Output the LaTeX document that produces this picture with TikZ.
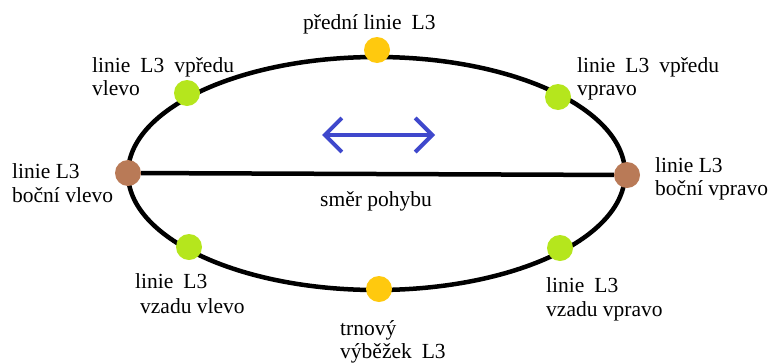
\documentclass[tikz,border=0pt]{standalone}
\usepackage{fontspec}
\setmainfont{Liberation Serif}
\newfontfamily\labelfont{Liberation Serif}
\usetikzlibrary{arrows.meta}

\definecolor{brownpt}{HTML}{B97A57}
\definecolor{yellowpt}{HTML}{FFC90E}
\definecolor{greenpt}{HTML}{B5E61D}
\definecolor{arrowblue}{HTML}{3F48CC}

\newcommand{\wgap}{\hspace{10pt}}

\begin{document}
\begin{tikzpicture}[
  x=1pt, y=-1pt,
  lbl/.style={anchor=base west, inner sep=0pt, font=\labelfont\fontsize{21.5}{24}\selectfont},
  dot/.style={circle, inner sep=0pt, minimum size=26pt},
  outline/.style={line width=4.5pt, black},
  motion/.style={line width=4pt, arrowblue, line cap=round,
    {Straight Barb[length=17pt, width=34pt, line width=4pt]}-{Straight Barb[length=17pt, width=34pt, line width=4pt]}}
]
\useasboundingbox (0,0) rectangle (773,362);

% outline of the vertebra
\draw[outline] (376.5,173.5) ellipse [x radius=248.5pt, y radius=116.5pt];

% points on the outline
\node[dot, fill=yellowpt] (front) at (377,50) {};
\node[dot, fill=greenpt] (fl) at (187,93) {};
\node[dot, fill=greenpt] (fr) at (558,97) {};
\node[dot, fill=brownpt] (sl) at (128,173) {};
\node[dot, fill=brownpt] (sr) at (627,175) {};
\node[dot, fill=greenpt] (bl) at (189,247) {};
\node[dot, fill=greenpt] (br) at (560,248) {};
\node[dot, fill=yellowpt] (back) at (379,289) {};

% transverse line between the lateral points
\draw[outline] (sl) -- (sr);

% direction of movement
\coordinate (mvl) at (322,135);
\coordinate (mvr) at (435,135);
\draw[motion] (mvl) -- (mvr);

% labels
\node[lbl] (tfront) at (303,29) {přední linie\wgap L3};
\node[lbl] (tfl1) at (92,72) {linie\wgap L3\wgap vpředu};
\node[lbl] (tfl2) at (92,95) {vlevo};
\node[lbl] (tfr1) at (577,72) {linie\wgap L3\wgap vpředu};
\node[lbl] (tfr2) at (577,95) {vpravo};
\node[lbl] (tsl1) at (12,178) {linie L3};
\node[lbl] (tsl2) at (12,202) {boční vlevo};
\node[lbl] (tsr1) at (655,172) {linie L3};
\node[lbl] (tsr2) at (655,195) {boční vpravo};
\node[lbl] (tmove) at (320,206) {směr pohybu};
\node[lbl] (tbl1) at (135,288) {linie\wgap L3};
\node[lbl] (tbl2) at (140,313) {vzadu vlevo};
\node[lbl] (tbr1) at (546,292) {linie\wgap L3};
\node[lbl] (tbr2) at (546,316) {vzadu vpravo};
\node[lbl] (tback1) at (340,335) {trnový};
\node[lbl] (tback2) at (340,358) {výběžek\wgap L3};
\end{tikzpicture}
\end{document}
